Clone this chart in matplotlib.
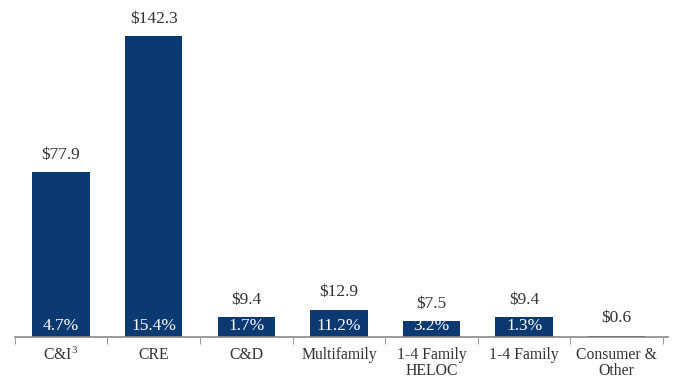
import matplotlib.pyplot as plt
import numpy as np

categories = ['C&I$^{3}$', 'CRE', 'C&D', 'Multifamily', '1-4 Family\nHELOC',
              '1-4 Family', 'Consumer &\nOther']
balances = [77.9, 142.3, 9.4, 12.9, 7.5, 9.4, 0.6]
pct_labels = ['4.7%', '15.4%', '1.7%', '11.2%', '3.2%', '1.3%', '']

navy = '#0b3a72'
text_grey = '#333333'

plt.rcParams['font.family'] = ['Liberation Serif', 'DejaVu Serif']
plt.rcParams['mathtext.fontset'] = 'custom'
plt.rcParams['mathtext.rm'] = 'Liberation Serif'
plt.rcParams['mathtext.default'] = 'rm'

fig = plt.figure(figsize=(6.73, 3.79), dpi=100)
ax = fig.add_axes([0.022, 0.111, 0.97, 0.889])

x = np.arange(len(categories))
bars = ax.bar(x, balances, width=0.62, color=navy)

for xi, val, pct in zip(x, balances, pct_labels):
    ax.annotate(f'${val:.1f}', (xi, val), xytext=(0, 12.5), textcoords='offset points',
                ha='center', va='center', fontsize=12.5, color=text_grey)
    if pct:
        ax.annotate(pct, (xi, 0), xytext=(0, 8), textcoords='offset points',
                    ha='center', va='center', fontsize=12.5, color='white')

ax.set_xlim(-0.5, len(categories) - 0.45)
ax.set_ylim(0, 159.3)
ax.set_xticks(x)
ax.set_xticklabels(categories, fontsize=11.3, color=text_grey, linespacing=1.0)
ax.set_xticks(np.arange(-0.5, len(categories)), minor=True)
ax.tick_params(axis='x', which='major', length=0, pad=7)
ax.tick_params(axis='x', which='minor', length=5, direction='out', color='#888888')
ax.set_yticks([])

for side in ['top', 'right', 'left']:
    ax.spines[side].set_visible(False)
ax.spines['bottom'].set_color('#888888')
ax.spines['bottom'].set_linewidth(1.2)

fig.savefig('out.png', dpi=100)
